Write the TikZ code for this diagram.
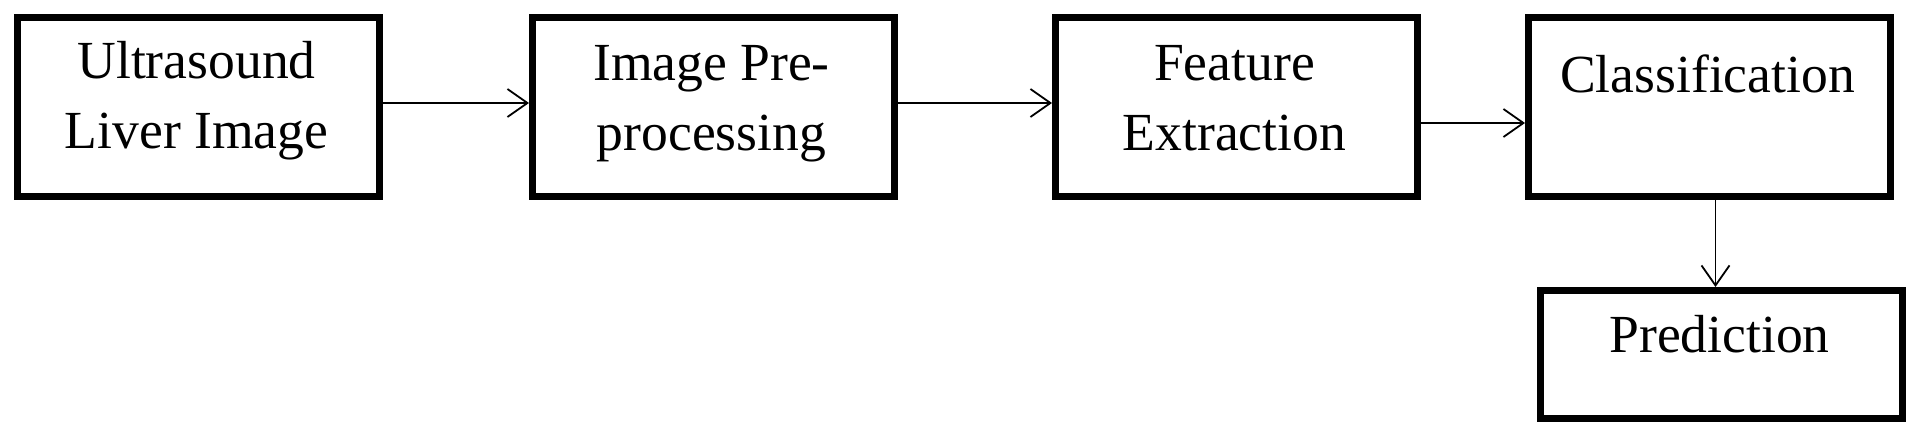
\documentclass[tikz,border=0pt]{standalone}
\usepackage{fontspec}
\setmainfont{Liberation Serif}
\usetikzlibrary{positioning,arrows.meta}

\tikzset{
  blk/.style={draw, line width=3.5pt, minimum width=181pt, minimum height=89.5pt, inner sep=0pt},
  lbl/.style={font=\fontsize{26.8}{35}\selectfont, align=center, anchor=north, inner sep=0pt, xshift=-1pt},
  arr/.style={-{Straight Barb[length=10pt,width=14pt,line width=0.9pt]}, line width=0.9pt}
}

\begin{document}
\begin{tikzpicture}

    \useasboundingbox (0,0) rectangle (953.5pt,-217pt);

    % Define nodes
    \node[blk] at (99.25pt,-53.5pt)           (us) {};
    \node[blk, right=73pt of us]             (pre) {};
    \node[blk, right=77pt of pre]             (fe) {};
    \node[blk, right=52pt of fe]             (cls) {};
    \node[blk, below=43.5pt of cls, xshift=6pt, minimum height=64pt] (pred) {};

    % Texts
    \node[lbl] at ([yshift=-7.5pt]us.north)   (usT) {\strut Ultrasound\\Liver Image};
    \node[lbl] at ([yshift=-8.5pt]pre.north) (preT) {\strut Image Pre-\\processing};
    \node[lbl] at ([yshift=-8.5pt]fe.north)   (feT) {\strut Feature\\Extraction};
    \node[lbl] at ([yshift=-14.5pt]cls.north) (clsT) {\strut Classification};
    \node[lbl] at ([yshift=-8pt]pred.north)  (predT) {\strut Prediction};

    % Connect the nodes
    \draw[arr] ([yshift=2pt]us.east) -- ([yshift=2pt]pre.west);
    \draw[arr] ([yshift=2pt]pre.east) -- ([yshift=2pt]fe.west);
    \draw[arr] ([yshift=-8pt]fe.east) -- ([yshift=-8pt]cls.west);
    \draw[arr] ([xshift=3pt]cls.south) -- ([xshift=-3pt]pred.north);

\end{tikzpicture}
\end{document}
